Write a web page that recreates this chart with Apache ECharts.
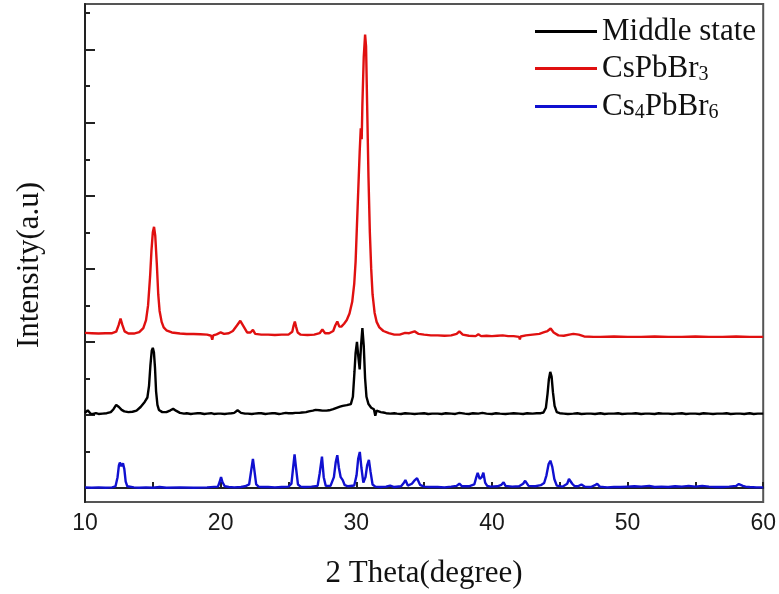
<!DOCTYPE html>
<html><head><meta charset="utf-8">
<script src="https://cdn.jsdelivr.net/npm/echarts@6/dist/echarts.min.js"></script>
<style>html,body{margin:0;padding:0;background:#fff}#c{width:779px;height:594px}</style>
</head><body><div id="c"></div>
<script>
// ---- data (2θ in degrees, intensity in a.u., traces offset) ----
const seriesNames = ['Middle state', 'CsPbBr3', 'Cs4PbBr6'];
const xTickValues = [10, 20, 30, 40, 50, 60];
const yMajorTicks = [0, 2, 4, 6, 8, 10, 12];
const yMinorTicks = [1, 3, 5, 7, 9, 11, 13];

const middleState = [
[10.0,2.06],[10.1,2.10],[10.2,2.13],[10.3,2.08],[10.4,2.04],[10.6,2.03],[10.8,2.05],[11.0,2.03],[11.3,2.04],[11.6,2.05],
[11.9,2.08],[12.1,2.16],[12.3,2.28],[12.5,2.22],[12.7,2.14],[12.9,2.10],[13.2,2.08],[13.5,2.09],[13.8,2.12],[14.1,2.22],
[14.4,2.36],[14.6,2.48],[14.72,2.80],[14.82,3.35],[14.92,3.76],[15.0,3.84],[15.08,3.72],[15.16,3.30],[15.24,2.65],[15.34,2.28],
[15.45,2.14],[15.7,2.08],[16.0,2.08],[16.3,2.13],[16.5,2.17],[16.7,2.12],[17.0,2.06],[17.3,2.04],[17.5,2.05],[17.8,2.03],
[18.0,2.04],[18.3,2.05],[18.5,2.05],[18.8,2.03],[19.0,2.04],[19.3,2.05],[19.5,2.03],[19.8,2.04],[20.0,2.04],[20.3,2.03],
[20.5,2.04],[20.8,2.05],[21.0,2.06],[21.25,2.13],[21.5,2.06],[21.8,2.04],[22.0,2.04],[22.3,2.03],[22.5,2.04],[22.8,2.05],
[23.0,2.05],[23.3,2.03],[23.5,2.04],[23.8,2.05],[24.0,2.05],[24.3,2.03],[24.5,2.04],[24.8,2.06],[25.0,2.05],[25.3,2.05],
[25.5,2.06],[25.8,2.06],[26.0,2.07],[26.3,2.08],[26.5,2.10],[26.8,2.12],[27.0,2.14],[27.3,2.13],[27.5,2.12],[27.8,2.12],
[28.0,2.13],[28.3,2.16],[28.5,2.19],[28.8,2.23],[29.0,2.25],[29.3,2.27],[29.6,2.30],[29.75,2.50],[29.87,3.20],[29.95,3.70],
[30.05,4.00],[30.15,3.60],[30.25,3.25],[30.35,3.90],[30.45,4.38],[30.55,3.90],[30.65,3.00],[30.75,2.50],[30.9,2.30],[31.1,2.20],
[31.3,2.16],[31.4,1.98],[31.5,2.12],[31.6,2.10],[31.8,2.08],[32.0,2.07],[32.2,2.05],[32.5,2.04],[32.8,2.05],[33.0,2.04],
[33.3,2.03],[33.6,2.05],[34.0,2.04],[34.3,2.03],[34.6,2.04],[35.0,2.05],[35.3,2.03],[35.6,2.04],[36.0,2.04],[36.3,2.03],
[36.6,2.05],[37.0,2.04],[37.3,2.03],[37.6,2.06],[38.0,2.04],[38.3,2.03],[38.6,2.05],[39.0,2.04],[39.3,2.06],[39.6,2.04],
[40.0,2.03],[40.3,2.05],[40.6,2.04],[41.0,2.03],[41.3,2.04],[41.6,2.05],[42.0,2.04],[42.3,2.03],[42.6,2.05],[43.0,2.04],
[43.3,2.05],[43.6,2.05],[43.8,2.07],[43.98,2.20],[44.1,2.58],[44.2,2.98],[44.3,3.18],[44.4,3.05],[44.5,2.62],[44.62,2.25],
[44.78,2.08],[45.0,2.05],[45.3,2.04],[45.6,2.03],[46.0,2.04],[46.3,2.05],[46.6,2.03],[47.0,2.04],[47.3,2.04],[47.6,2.03],
[48.0,2.05],[48.3,2.03],[48.6,2.04],[49.0,2.04],[49.3,2.05],[49.6,2.03],[50.0,2.04],[50.3,2.04],[50.6,2.05],[51.0,2.03],
[51.3,2.04],[51.6,2.04],[52.0,2.03],[52.3,2.05],[52.6,2.04],[53.0,2.04],[53.3,2.03],[53.6,2.04],[54.0,2.05],[54.3,2.03],
[54.6,2.04],[55.0,2.04],[55.3,2.03],[55.6,2.05],[56.0,2.04],[56.3,2.03],[56.6,2.04],[57.0,2.04],[57.3,2.05],[57.6,2.03],
[58.0,2.04],[58.3,2.04],[58.6,2.03],[59.0,2.05],[59.3,2.03],[59.6,2.04],[60.0,2.04]
];

const csPbBr3 = [
[10.0,4.25],[10.5,4.24],[11.0,4.23],[11.5,4.24],[12.0,4.24],[12.3,4.28],[12.48,4.46],[12.62,4.64],[12.76,4.46],[12.92,4.29],
[13.2,4.23],[13.6,4.23],[14.0,4.27],[14.3,4.38],[14.5,4.60],[14.65,5.00],[14.8,5.80],[14.9,6.50],[15.0,7.00],[15.09,7.15],
[15.18,6.90],[15.3,6.10],[15.4,5.30],[15.5,4.85],[15.65,4.55],[15.8,4.40],[16.0,4.32],[16.4,4.26],[17.0,4.23],[17.5,4.22],
[18.0,4.22],[18.5,4.21],[19.0,4.20],[19.3,4.17],[19.38,4.06],[19.45,4.18],[19.7,4.21],[20.0,4.26],[20.1,4.31],[20.25,4.22],
[20.6,4.24],[20.9,4.30],[21.2,4.45],[21.45,4.58],[21.7,4.42],[21.95,4.26],[22.2,4.26],[22.38,4.33],[22.55,4.22],[23.0,4.20],
[23.5,4.20],[24.0,4.19],[24.5,4.20],[25.0,4.20],[25.28,4.28],[25.38,4.45],[25.47,4.56],[25.56,4.42],[25.68,4.26],[25.9,4.20],
[26.4,4.19],[26.9,4.20],[27.3,4.24],[27.5,4.34],[27.7,4.24],[28.0,4.24],[28.3,4.30],[28.45,4.45],[28.6,4.56],[28.75,4.42],
[28.9,4.42],[29.1,4.50],[29.3,4.60],[29.5,4.78],[29.7,5.10],[29.85,5.60],[29.95,6.20],[30.05,7.20],[30.15,8.20],[30.25,9.20],
[30.33,9.85],[30.4,9.55],[30.45,10.50],[30.55,11.80],[30.65,12.41],[30.72,12.10],[30.8,10.50],[30.9,8.50],[31.0,7.00],[31.1,6.00],
[31.2,5.30],[31.35,4.80],[31.5,4.55],[31.7,4.40],[32.0,4.30],[32.4,4.24],[32.8,4.20],[33.2,4.20],[33.6,4.25],[33.9,4.24],
[34.3,4.29],[34.6,4.22],[35.0,4.20],[35.5,4.18],[36.0,4.18],[36.5,4.17],[37.0,4.18],[37.4,4.22],[37.6,4.29],[37.85,4.20],
[38.3,4.17],[38.8,4.16],[39.0,4.21],[39.2,4.16],[39.6,4.17],[40.0,4.16],[40.4,4.17],[40.8,4.18],[41.2,4.16],[41.6,4.16],
[42.0,4.14],[42.06,4.07],[42.12,4.15],[42.5,4.18],[43.0,4.20],[43.5,4.22],[43.8,4.26],[44.1,4.30],[44.33,4.37],[44.55,4.26],
[44.9,4.18],[45.3,4.17],[45.7,4.20],[46.0,4.22],[46.4,4.20],[46.8,4.15],[47.5,4.14],[48.0,4.14],[49.0,4.15],[50.0,4.14],
[51.0,4.14],[52.0,4.15],[53.0,4.14],[54.0,4.14],[55.0,4.15],[56.0,4.14],[57.0,4.14],[58.0,4.15],[59.0,4.14],[60.0,4.14]
];

const cs4PbBr6 = [
[10.0,0.02],[10.5,0.01],[11.0,0.02],[11.5,0.01],[12.0,0.02],[12.25,0.05],[12.4,0.30],[12.5,0.62],[12.57,0.70],[12.68,0.60],
[12.8,0.68],[12.9,0.52],[13.0,0.18],[13.12,0.05],[13.6,0.02],[14.0,0.01],[14.5,0.02],[15.0,0.01],[15.5,0.03],[16.0,0.01],
[17.0,0.02],[18.0,0.01],[19.0,0.02],[19.8,0.04],[19.92,0.16],[20.03,0.30],[20.14,0.16],[20.3,0.05],[20.6,0.03],[21.0,0.02],
[21.5,0.03],[21.8,0.05],[22.1,0.10],[22.24,0.45],[22.38,0.80],[22.5,0.45],[22.62,0.10],[22.8,0.04],[23.0,0.03],[23.5,0.03],
[24.0,0.02],[24.5,0.03],[25.0,0.04],[25.22,0.12],[25.34,0.55],[25.45,0.92],[25.56,0.55],[25.7,0.10],[25.9,0.04],[26.2,0.03],
[26.7,0.04],[27.15,0.06],[27.3,0.40],[27.47,0.86],[27.6,0.30],[27.75,0.06],[28.1,0.06],[28.35,0.30],[28.48,0.70],[28.6,0.90],
[28.72,0.55],[28.85,0.30],[29.0,0.22],[29.15,0.08],[29.4,0.05],[29.85,0.07],[30.02,0.35],[30.14,0.80],[30.26,0.99],[30.38,0.55],
[30.52,0.15],[30.68,0.30],[30.8,0.62],[30.93,0.77],[31.05,0.45],[31.2,0.10],[31.4,0.04],[31.8,0.03],[32.2,0.04],[32.5,0.07],
[32.8,0.03],[33.3,0.05],[33.5,0.14],[33.62,0.22],[33.8,0.07],[34.1,0.12],[34.32,0.22],[34.48,0.27],[34.7,0.09],[35.0,0.04],
[35.5,0.03],[36.0,0.03],[36.5,0.02],[37.0,0.04],[37.4,0.06],[37.6,0.12],[37.8,0.05],[38.3,0.05],[38.7,0.10],[38.85,0.30],
[38.95,0.42],[39.1,0.25],[39.25,0.30],[39.37,0.42],[39.5,0.15],[39.65,0.06],[39.9,0.04],[40.4,0.05],[40.7,0.09],[40.86,0.16],
[41.0,0.06],[41.5,0.04],[42.0,0.05],[42.3,0.12],[42.45,0.20],[42.7,0.06],[43.2,0.05],[43.6,0.08],[43.85,0.14],[44.02,0.35],
[44.18,0.66],[44.31,0.75],[44.45,0.58],[44.6,0.25],[44.78,0.07],[45.2,0.04],[45.55,0.12],[45.68,0.25],[45.78,0.30],[45.92,0.12],
[46.1,0.05],[46.35,0.05],[46.6,0.10],[46.85,0.04],[47.3,0.03],[47.6,0.08],[47.76,0.12],[47.95,0.04],[48.5,0.02],[49.0,0.03],
[49.5,0.03],[50.0,0.04],[50.5,0.05],[51.0,0.04],[51.6,0.06],[52.0,0.03],[52.5,0.04],[53.0,0.03],[53.5,0.05],[54.0,0.04],
[54.5,0.06],[55.0,0.04],[55.5,0.06],[56.0,0.04],[56.5,0.03],[57.0,0.03],[57.5,0.04],[58.0,0.06],[58.2,0.11],[58.33,0.13],
[58.5,0.06],[58.7,0.04],[59.0,0.03],[59.5,0.02],[60.0,0.02]
];

const colors = ['#000000', '#e01010', '#1010d0'];
const serif = '"Liberation Serif", "Times New Roman", serif';
const sans = '"Liberation Sans", Arial, sans-serif';

const chart = echarts.init(document.getElementById('c'));
const legendLabels = {
  'Middle state': 'Middle state',
  'CsPbBr3': 'CsPbBr{sub|3}',
  'Cs4PbBr6': 'Cs{sub|4}PbBr{sub|6}'
};
const legendTops = [15, 52, 90];
const legends = seriesNames.map((n, i) => ({
  data: [n], left: 535, top: legendTops[i], padding: 0,
  icon: 'rect', itemWidth: 62, itemHeight: 3,
  formatter: name => legendLabels[name],
  selectedMode: false,
  textStyle: {
    fontFamily: serif, fontSize: 31, lineHeight: 33, color: '#111',
    rich: { sub: { fontFamily: serif, fontSize: 20, lineHeight: 12, verticalAlign: 'bottom', color: '#111' } }
  }
}));

const yBase = {
  type: 'value', min: -0.38, max: 13.25, position: 'left',
  axisLabel: { show: false }, splitLine: { show: false }
};

chart.setOption({
  animation: false,
  backgroundColor: '#fff',
  grid: { left: 85, right: 13, top: 4, bottom: 89, show: true, borderColor: '#555', borderWidth: 2, backgroundColor: 'transparent' },
  legend: legends,
  xAxis: {
    type: 'value', min: 10, max: 60, interval: 10,
    name: '2 Theta(degree)', nameLocation: 'middle', nameGap: 56,
    nameTextStyle: { fontFamily: serif, fontSize: 31, color: '#111' },
    axisLine: { lineStyle: { color: '#222', width: 2 } },
    axisTick: { inside: true, length: 6, lineStyle: { color: '#222', width: 2 } },
    minorTick: { show: true, splitNumber: 2, length: 6, lineStyle: { color: '#222', width: 2 } },
    axisLabel: { fontFamily: sans, fontSize: 23, color: '#1a1a1a', margin: 10, customValues: xTickValues },
    splitLine: { show: false }
  },
  yAxis: [
    Object.assign({}, yBase, {
      name: 'Intensity(a.u)', nameLocation: 'middle', nameGap: 40,
      nameTextStyle: { fontFamily: serif, fontSize: 31, color: '#111', padding: [0, 24, 0, 0] },
      axisLine: { show: true, lineStyle: { color: '#222', width: 2 } },
      axisTick: { show: true, inside: true, length: 10, customValues: yMajorTicks, lineStyle: { color: '#222', width: 2 } }
    }),
    Object.assign({}, yBase, {
      axisLine: { show: false },
      axisTick: { show: true, inside: true, length: 5, customValues: yMinorTicks, lineStyle: { color: '#222', width: 2 } }
    })
  ],
  series: [middleState, csPbBr3, cs4PbBr6].map((d, i) => ({
    name: seriesNames[i], type: 'line', data: d, yAxisIndex: 0,
    symbol: 'none', smooth: false,
    lineStyle: { color: colors[i], width: 2.4 },
    itemStyle: { color: colors[i] }
  }))
});
</script></body></html>
